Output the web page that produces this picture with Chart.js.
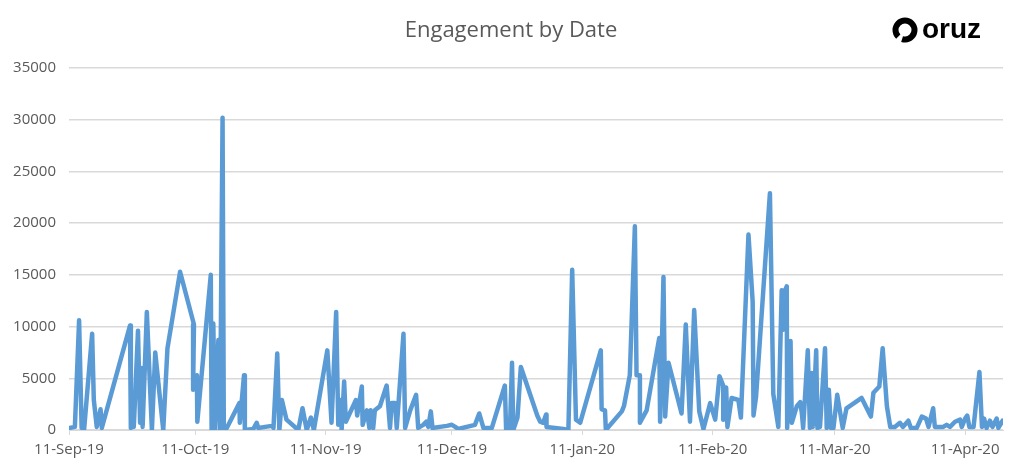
<!DOCTYPE html>
<html>
<head>
<meta charset="utf-8">
<title>Engagement by Date</title>
<script src="https://cdn.jsdelivr.net/npm/chart.js@4.4.1/dist/chart.umd.min.js"></script>
<style>
    html, body { margin: 0; padding: 0; background: #fff; }
    canvas { display: block; }
</style>
</head>
<body>
<canvas id="engagement-chart" width="1024" height="474"></canvas>
<script>
// days since 11-Sep-19 (data is not sorted, so the line goes back and forth)
const dayOffsets = [
    0.2, 1.4, 2.4, 3.0, 3.6, 5.5, 5.9, 6.6, 7.5, 7.8,
    14.5, 14.7, 15.1, 15.4, 16.4, 16.9, 17.3, 17.5, 18.5, 19.7,
    20.5, 22.4, 23.4, 26.4, 29.7, 29.5, 30.4, 30.5, 33.7, 33.9,
    34.3, 34.7, 35.5, 35.9, 36.5, 36.8, 37.5, 40.5, 40.6, 41.6,
    41.8, 43.8, 44.6, 45.0, 48.2, 48.6, 49.5, 50.0, 50.6, 51.7,
    54.5, 55.5, 56.5, 57.5, 58.2, 61.4, 62.4, 63.5, 64.0, 64.6,
    64.8, 65.4, 65.8, 68.2, 68.5, 69.6, 69.8, 70.8, 71.4, 71.7,
    72.3, 72.7, 73.9, 75.5, 76.3, 76.7, 77.5, 77.9, 79.5, 79.9,
    81.1, 82.5, 83.0, 84.2, 84.9, 85.4, 86.0, 86.4, 89.8, 91.0,
    91.8, 92.5, 96.5, 97.5, 98.5, 100.5, 103.6, 103.9, 104.8, 105.3,
    105.6, 106.6, 107.4, 111.3, 112.0, 112.7, 113.4, 113.5, 117.5, 118.7,
    119.6, 120.5, 121.5, 126.4, 126.6, 127.4, 127.6, 131.4, 131.9, 133.3,
    134.5, 134.9, 135.7, 135.7, 137.3, 140.3, 140.5, 141.3, 141.7, 142.5,
    145.6, 146.6, 147.6, 148.6, 149.8, 150.8, 152.4, 153.6, 154.6, 155.5,
    155.5, 156.2, 156.5, 157.5, 159.1, 159.7, 161.5, 162.5, 162.7, 163.3,
    166.6, 167.4, 168.6, 169.4, 169.8, 170.2, 170.6, 170.7, 171.5, 171.8,
    173.0, 173.8, 174.2, 174.5, 175.6, 176.1, 176.5, 176.8, 177.6, 177.9,
    178.5, 179.7, 180.1, 180.6, 181.1, 181.7, 182.6, 183.9, 184.8, 188.4,
    190.6, 191.2, 192.6, 193.4, 194.4, 195.2, 196.3, 197.5, 198.2, 199.5,
    200.1, 201.5, 202.7, 203.7, 204.3, 205.4, 205.8, 207.8, 208.6, 209.4,
    210.6, 211.8, 212.2, 213.0, 213.5, 214.0, 215.0, 216.4, 217.0, 217.5,
    218.1, 218.9, 219.5, 220.5, 220.9, 221.9
];

const engagement = [
    200, 300, 10600, 200, 100, 9300, 2900, 300, 2000, 200,
    10100, 200, 2600, 300, 9600, 700, 6000, 300, 11400, 0,
    7500, 0, 7900, 15300, 10200, 3900, 5300, 800, 15000, 0,
    10300, 0, 8700, 0, 30200, 0, 200, 2600, 700, 5300,
    0, 100, 700, 200, 400, 200, 7400, 0, 2900, 1000,
    0, 2100, 0, 1200, 0, 7700, 700, 11400, 500, 2900,
    0, 4700, 800, 2900, 1400, 4200, 500, 1900, 200, 1900,
    200, 1900, 2300, 4300, 200, 2600, 2600, 200, 9300, 200,
    1900, 3400, 200, 500, 800, 300, 1800, 200, 400, 500,
    300, 100, 500, 1600, 200, 200, 4300, 0, 0, 6500,
    0, 1200, 6100, 1400, 800, 700, 1500, 300, 100, 0,
    15500, 1000, 700, 7700, 2000, 1900, 0, 1800, 2300, 5300,
    19700, 5300, 5300, 700, 1900, 8900, 800, 14800, 1300, 6500,
    1600, 10200, 800, 11600, 1800, 100, 2600, 1000, 5200, 4300,
    1000, 4100, 300, 3100, 2900, 1200, 18900, 12400, 1400, 3200,
    22900, 3500, 300, 13500, 9700, 13500, 13900, 200, 8600, 700,
    2300, 2700, 1600, 200, 7700, 200, 5500, 300, 7700, 200,
    300, 7900, 200, 3900, 200, 200, 3400, 200, 2100, 3100,
    1300, 3600, 4200, 7900, 2300, 300, 300, 700, 300, 900,
    200, 200, 1300, 1100, 300, 2100, 300, 300, 500, 300,
    800, 1000, 300, 1100, 1400, 300, 300, 5600, 300, 1100,
    200, 900, 300, 1100, 200, 900
];

const tickDays = [0, 30, 61, 91, 122, 153, 182, 213];
const tickLabels = ['11-Sep-19', '11-Oct-19', '11-Nov-19', '11-Dec-19', '11-Jan-20', '11-Feb-20', '11-Mar-20', '11-Apr-20'];

const points = dayOffsets.map((d, i) => ({ x: d, y: engagement[i] }));

// title and logo drawn on top
const headerPlugin = {
    id: 'header',
    afterDraw(chart) {
        const ctx = chart.ctx;
        ctx.save();
        ctx.fillStyle = '#595959';
        ctx.font = '22px "Open Sans", sans-serif';
        ctx.textAlign = 'center';
        ctx.textBaseline = 'middle';
        ctx.fillText('Engagement by Date', 511, 31);

        ctx.strokeStyle = '#000';
        ctx.lineWidth = 6;
        ctx.beginPath();
        ctx.arc(905, 30, 9.5, 0.75 * Math.PI, 2.6 * Math.PI);
        ctx.stroke();
        ctx.fillStyle = '#000';
        ctx.font = 'bold 28px "Liberation Sans", Arial, sans-serif';
        ctx.textAlign = 'left';
        ctx.textBaseline = 'alphabetic';
        ctx.fillText('oruz', 922, 38);
        ctx.restore();
    }
};

const ctx = document.getElementById('engagement-chart').getContext('2d');

new Chart(ctx, {
    type: 'line',
    data: {
        datasets: [{
            label: 'Engagement',
            data: points,
            borderColor: '#5B9BD5',
            borderWidth: 4.5,
            pointRadius: 0,
            tension: 0,
            borderJoinStyle: 'round',
            borderCapStyle: 'round',
            fill: false
        }]
    },
    options: {
        responsive: false,
        animation: false,
        devicePixelRatio: 1,
        layout: { padding: { left: 0, right: 21, top: 68, bottom: 0 } },
        plugins: {
            legend: { display: false },
            tooltip: { enabled: false },
            title: { display: false }
        },
        scales: {
            x: {
                type: 'linear',
                min: 0,
                max: 222,
                afterBuildTicks: s => { s.ticks = tickDays.map(v => ({ value: v })); },
                afterFit: s => { s.height = 44; },
                ticks: {
                    autoSkip: false,
                    maxRotation: 0,
                    padding: 6,
                    color: '#595959',
                    font: { family: '"Open Sans", sans-serif', size: 15 },
                    callback: (value, index) => tickLabels[index]
                },
                grid: { drawOnChartArea: false, drawTicks: true, tickLength: 5, color: '#d9d9d9' },
                border: { color: '#d9d9d9', width: 1 }
            },
            y: {
                min: 0,
                max: 35000,
                afterFit: s => { s.width = 69; },
                ticks: {
                    stepSize: 5000,
                    padding: 13,
                    color: '#595959',
                    font: { family: '"Open Sans", sans-serif', size: 15 },
                    callback: value => String(value)
                },
                grid: { color: '#d9d9d9', lineWidth: 1.5, drawTicks: false },
                border: { display: false }
            }
        }
    },
    plugins: [headerPlugin]
});
</script>
</body>
</html>
